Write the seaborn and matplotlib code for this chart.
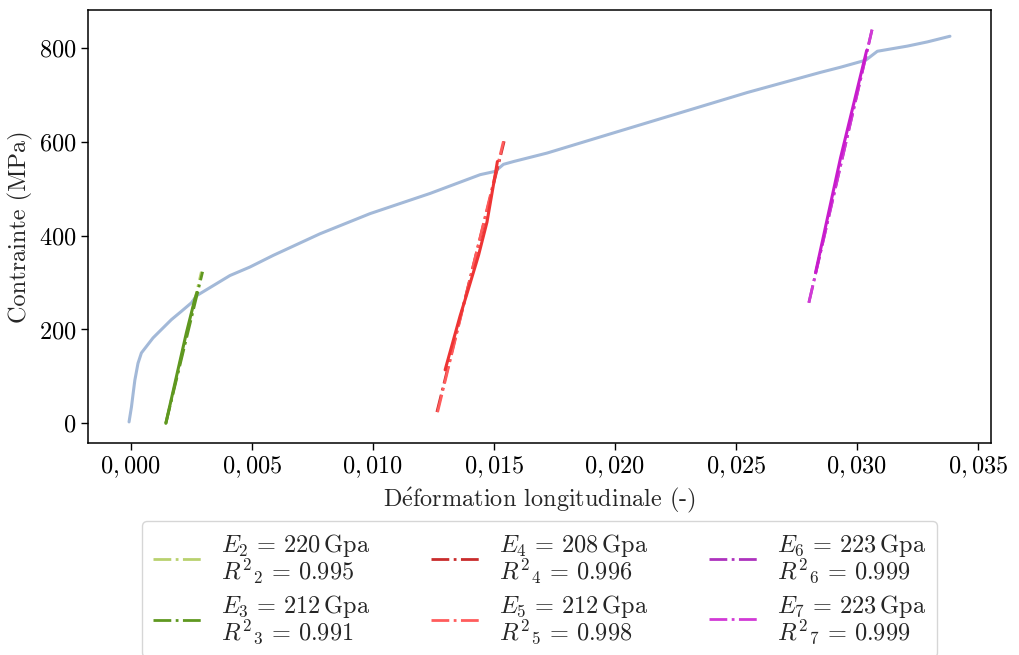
import numpy as np
import pandas as pd
import matplotlib
matplotlib.use("Agg")
import matplotlib.pyplot as plt
import seaborn as sns
from matplotlib.ticker import FuncFormatter

# ---------------- data ----------------
curve_strain = [-0.00007, 0.00003, 0.00010, 0.00017, 0.00030, 0.00044, 0.00065, 0.00092,
                0.00127, 0.00168, 0.00210, 0.00251, 0.00272, 0.00410, 0.00492, 0.00589,
                0.00782, 0.00989, 0.01237, 0.01444, 0.01506, 0.01540, 0.01582, 0.01720,
                0.01995, 0.02271, 0.02547, 0.02850, 0.02933, 0.03037, 0.03085, 0.03209,
                0.03292, 0.03385]
curve_stress = [3, 35, 64, 92, 128, 150, 164, 182,
                200, 221, 239, 257, 272, 315, 333, 358,
                404, 447, 490, 530, 537, 552, 558, 576,
                619, 662, 705, 748, 759, 774, 793, 804,
                813, 825]

fit_names = ["2", "3", "4", "5", "6", "7"]
fit_E = [220, 212, 208, 212, 223, 223]
fit_R2 = ["0.995", "0.991", "0.996", "0.998", "0.999", "0.999"]
fit_x0 = [0.00145, 0.00145, 0.01265, 0.01268, 0.02802, 0.02802]
fit_x1 = [0.00292, 0.00297, 0.01543, 0.01540, 0.03063, 0.03063]
fit_y0 = [0, 0, 24, 24, 257, 257]
fit_y1 = [323, 323, 601, 601, 839, 839]
fit_colors = ["#b9d16f", "#5f9820", "#c92c2c", "#ff5c5c", "#ad32bd", "#d23ad6"]

seg_green_x = [0.00145, 0.00189, 0.00230, 0.00265, 0.00274]
seg_green_y = [0, 100, 193, 265, 279]
seg_red_x = [0.01299, 0.01361, 0.01395, 0.01437, 0.01472, 0.01506, 0.01515]
seg_red_y = [114, 229, 286, 358, 429, 530, 558]
seg_mag_x = [0.02830, 0.02933, 0.03041]
seg_mag_y = [322, 566, 795]

xticks = [0.000, 0.005, 0.010, 0.015, 0.020, 0.025, 0.030, 0.035]
yticks = [0, 200, 400, 600, 800]

# ---------------- style ----------------
sns.set_style("ticks")
plt.rcParams.update({
    "font.family": ["serif"],
    "font.serif": ["cmr10", "DejaVu Serif"],
    "mathtext.fontset": "cm",
    "axes.formatter.use_mathtext": True,
    "font.size": 17.5,
    "axes.linewidth": 1.1,
    "axes.edgecolor": "black",
    "xtick.color": "black",
    "ytick.color": "black",
})

fig = plt.figure(figsize=(10.19, 6.55), dpi=100)
ax = fig.add_axes([88/1019, 1-443/655, (991-88)/1019, (443-10)/655])

df_curve = pd.DataFrame({"x": curve_strain, "y": curve_stress})
sns.lineplot(data=df_curve, x="x", y="y", ax=ax, sort=False, estimator=None,
             color="#a3b9d8", lw=2.2, zorder=2)

handles = []
for i in range(6):
    dfl = pd.DataFrame({"x": [fit_x0[i], fit_x1[i]], "y": [fit_y0[i], fit_y1[i]]})
    label = (r"$E_{%s} \,=\, %d\,\mathrm{Gpa}$" % (fit_names[i], fit_E[i]) + "\n"
             + r"${R^2}_{%s} \,=\, %s$" % (fit_names[i], fit_R2[i]))
    sns.lineplot(data=dfl, x="x", y="y", ax=ax, sort=False, estimator=None,
                 color=fit_colors[i], lw=2.0, linestyle="-.", zorder=3 + i)
    handles.append((ax.lines[-1], label))

for sx, sy, c, z in [(seg_green_x, seg_green_y, fit_colors[1], 10),
                     (seg_red_x, seg_red_y, "#ee3434", 10),
                     (seg_mag_x, seg_mag_y, "#c81ccc", 10)]:
    dfs = pd.DataFrame({"x": sx, "y": sy})
    sns.lineplot(data=dfs, x="x", y="y", ax=ax, sort=False, estimator=None,
                 color=c, lw=2.2, zorder=z)

ax.set_xticks(xticks)
ax.set_yticks(yticks)
ax.xaxis.set_major_formatter(FuncFormatter(lambda v, p: ("$%.3f$" % v).replace(".", ",")))
ax.yaxis.set_major_formatter(FuncFormatter(lambda v, p: "$%d$" % round(v)))
ax.margins(x=0.05, y=0.05)
ax.set_xlabel(r"D$\mathrm{\acute{e}}$formation longitudinale (-)", labelpad=4)
ax.set_ylabel("Contrainte (MPa)", labelpad=4)
for s in ["top", "right"]:
    ax.spines[s].set_visible(True)
ax.tick_params(direction="out", length=5, width=1.0, top=False, right=False)

leg = ax.legend([h for h, _ in handles], [l for _, l in handles],
                loc="upper center", bbox_to_anchor=(0.5, -0.152), ncol=3,
                frameon=True, fancybox=True, fontsize=17.5,
                handlelength=2.0, labelspacing=0.3, borderpad=0.45,
                columnspacing=2.5)
for t in leg.get_texts():
    t.set_linespacing(0.88)
leg.get_frame().set_edgecolor("#cccccc")

fig.savefig("out.png", dpi=100)
